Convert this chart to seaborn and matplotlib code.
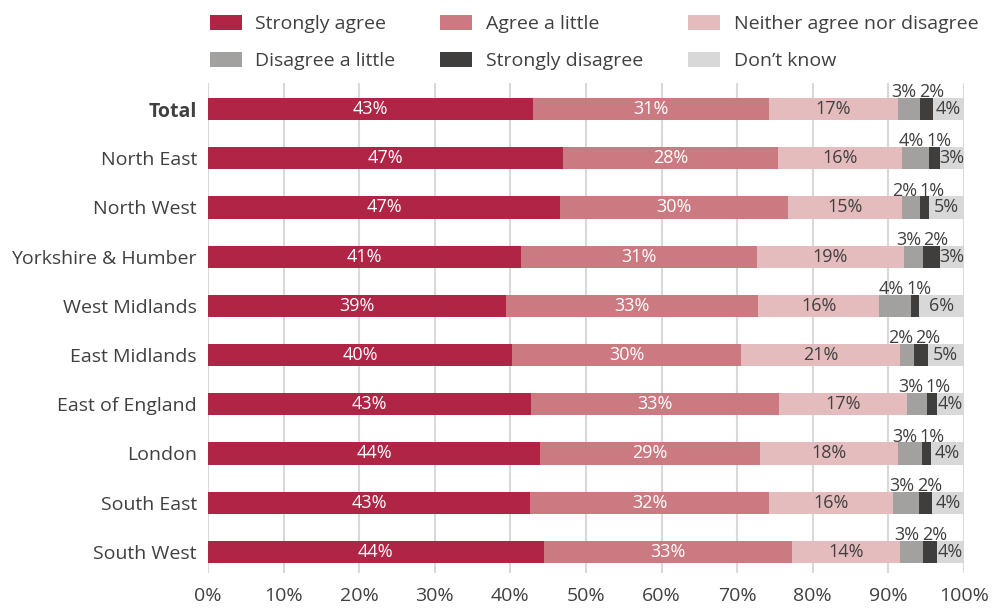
import matplotlib
matplotlib.use("Agg")
import matplotlib.pyplot as plt
import seaborn as sns
import pandas as pd
import numpy as np
from matplotlib.patches import Patch

regions = ["Total", "North East", "North West", "Yorkshire & Humber", "West Midlands",
           "East Midlands", "East of England", "London", "South East", "South West"]
categories = ["Strongly agree", "Agree a little", "Neither agree nor disagree",
              "Disagree a little", "Strongly disagree", "Don\u2019t know"]

strongly_agree = [43.0, 47.0, 46.6, 41.4, 39.4, 40.2, 42.7, 43.9, 42.6, 44.4]
agree_little = [31.2, 28.4, 30.1, 31.2, 33.4, 30.3, 32.8, 29.1, 31.6, 32.8]
neither = [17.1, 16.4, 15.1, 19.4, 16.0, 21.0, 17.0, 18.3, 16.4, 14.3]
disagree_little = [2.9, 3.6, 2.4, 2.6, 4.2, 1.9, 2.6, 3.1, 3.4, 3.1]
strongly_disagree = [1.7, 1.4, 1.2, 2.2, 1.0, 1.8, 1.3, 1.2, 1.8, 1.8]
dont_know = [4.1, 3.1, 4.6, 3.2, 6.0, 4.8, 3.6, 4.4, 4.2, 3.6]

colors = ["#B02545", "#CC7A81", "#E5BCBD", "#A2A19F", "#403E3C", "#D9D8D9"]
text_col = "#404040"

sns.set_theme(style="white")
plt.rcParams['font.family'] = ['Open Sans', 'DejaVu Sans']

df = pd.DataFrame({"Region": regions})
series = [strongly_agree, agree_little, neither, disagree_little, strongly_disagree, dont_know]
for cat, vals in zip(categories, series):
    df[cat] = vals
cum = df[categories].cumsum(axis=1)
start = cum - df[categories].values

fig = plt.figure(figsize=(9.95, 6.08), dpi=100)
ax = fig.add_axes([208/995, 1-573/608, (964-208)/995, (573-83)/608])

# stacked bars: draw cumulative totals from the longest down
for i in range(len(categories)-1, -1, -1):
    tmp = pd.DataFrame({"Region": regions, "x": cum[categories[i]].values})
    sns.barplot(data=tmp, x="x", y="Region", orient="h", color=colors[i],
                saturation=1, width=0.45, linewidth=0, ax=ax, zorder=3)

ax.set_xlim(0, 100)
ax.set_ylim(len(regions)-1+0.43, -0.53)
ax.set_xticks(np.arange(0, 101, 10))
ax.set_xticklabels([f"{t}%" for t in range(0, 101, 10)])
ax.grid(axis="x", color="#d9d9d9", linewidth=1.5, zorder=0)
ax.grid(axis="y", visible=False)
for s in ax.spines.values():
    s.set_visible(False)
ax.set_xlabel("")
ax.set_ylabel("")
ax.tick_params(axis="x", labelsize=14, colors=text_col, pad=10, length=0)
ax.tick_params(axis="y", labelsize=14, colors=text_col, pad=8, length=0)
ax.get_yticklabels()[0].set_fontweight("bold")

# value labels
for r in range(len(regions)):
    for i, cat in enumerate(categories):
        v = df[cat][r]
        mid = start[cat][r] + v/2
        lbl = f"{v:.0f}%"
        if i < 3:
            ax.text(mid, r, lbl, ha="center", va="center", fontsize=13,
                    color="white" if i < 2 else text_col, zorder=4)
        elif i == 5:
            ax.text(mid, r, lbl, ha="center", va="center", fontsize=13,
                    color=text_col, zorder=4)
    # small ones above the bar, pushed apart if they overlap
    xd = start[categories[3]][r] + df[categories[3]][r]/2
    xs = start[categories[4]][r] + df[categories[4]][r]/2
    gap = 3.6
    if xs - xd < gap:
        extra = (gap - (xs - xd))/2
        xd -= extra
        xs += extra
    ax.text(xd, r - 0.16, f"{df[categories[3]][r]:.0f}%", ha="center", va="bottom",
            fontsize=13, color=text_col, zorder=4)
    ax.text(xs, r - 0.16, f"{df[categories[4]][r]:.0f}%", ha="center", va="bottom",
            fontsize=13, color=text_col, zorder=4)

# legend filled row by row like the original
order = [0, 3, 1, 4, 2, 5]
handles = [Patch(facecolor=colors[k], edgecolor="none") for k in order]
fig.legend(handles, [categories[k] for k in order], ncol=3, loc="upper left",
           bbox_to_anchor=(197/995, 1.0 - 2/608), frameon=False, fontsize=14,
           labelcolor=text_col, handlelength=1.65, handleheight=0.85, handletextpad=0.7,
           columnspacing=2.3, labelspacing=0.95, borderaxespad=0.25)

fig.savefig("out.png", dpi=100)
